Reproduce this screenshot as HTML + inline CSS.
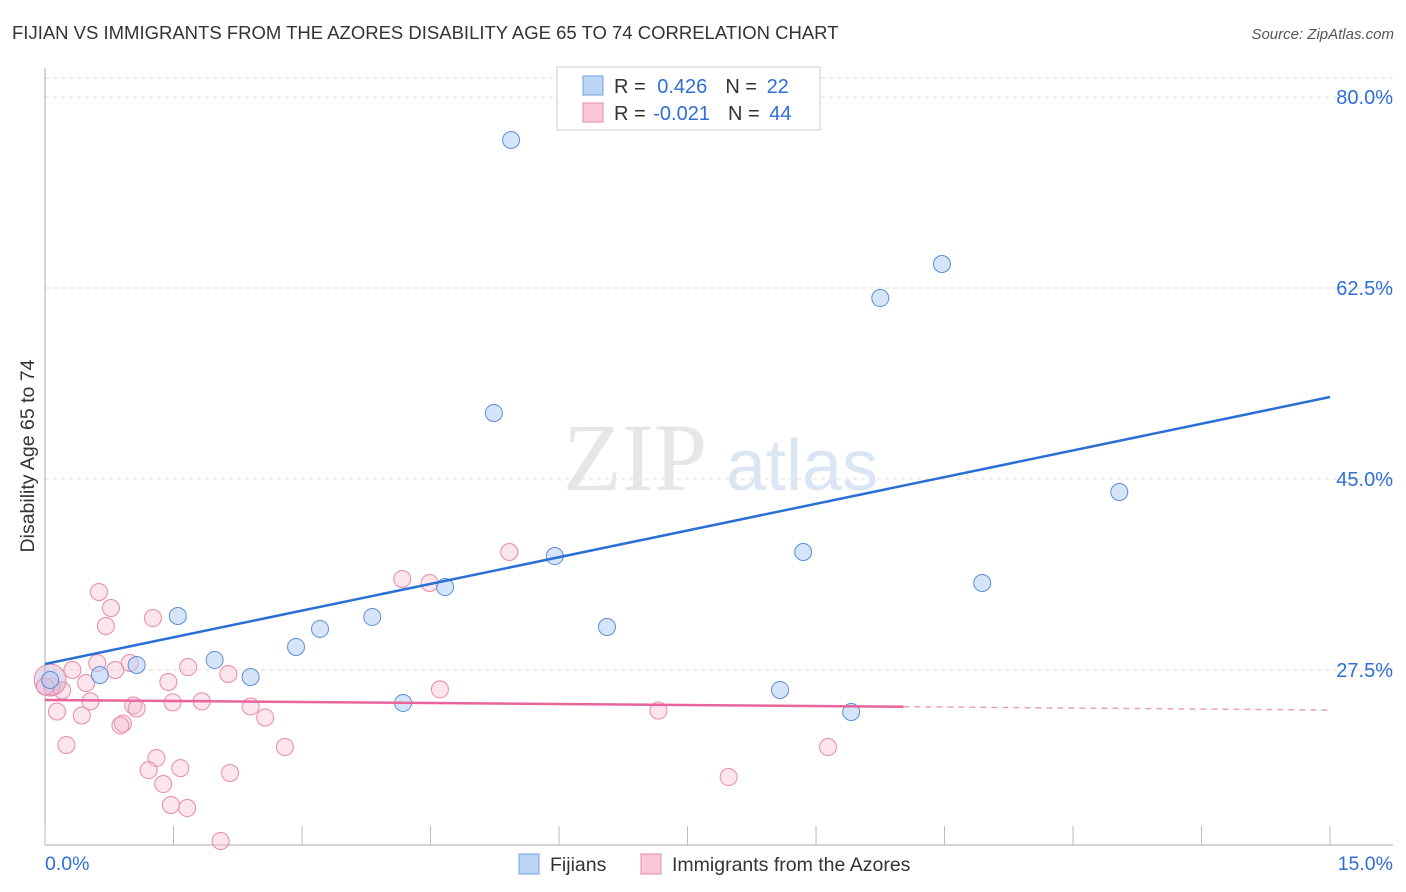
<!DOCTYPE html>
<html><head><meta charset="utf-8"><style>
body{margin:0;background:#fff;font-family:"Liberation Sans",sans-serif}
svg{display:block}
</style></head><body>
<svg width="1406" height="892">
<text x="12" y="39" font-size="18.5" fill="#333">FIJIAN VS IMMIGRANTS FROM THE AZORES DISABILITY AGE 65 TO 74 CORRELATION CHART</text>
<text x="1394" y="39" font-size="15" fill="#555" font-style="italic" text-anchor="end">Source: ZipAtlas.com</text>
<text transform="translate(34,456) rotate(-90)" font-size="19.5" fill="#333" text-anchor="middle">Disability Age 65 to 74</text>
<g id="grid"></g>
<g id="watermark">
<text x="635" y="490" font-size="96" fill="#e6e6e6" font-family="Liberation Serif" text-anchor="middle">ZIP</text>
<text x="802" y="490" font-size="72" fill="#dbe6f5" text-anchor="middle">atlas</text></g>
<g id="pts"></g><g id="lines"></g>
<g>
<rect x="557" y="67" width="263" height="63" fill="#fff" stroke="#ccc"/>
<rect x="583" y="76" width="20" height="19" fill="#bcd4f6" stroke="#6fa0e0"/>
<rect x="583" y="103" width="20" height="19" fill="#f9c8d6" stroke="#e88aa8"/>
<text x="614" y="93" font-size="20" fill="#333">R = <tspan fill="#2f6ed6" dx="6">0.426</tspan><tspan dx="18">N = </tspan><tspan fill="#2f6ed6" dx="4">22</tspan></text>
<text x="614" y="120" font-size="20" fill="#333">R = <tspan fill="#2f6ed6" dx="2">-0.021</tspan><tspan dx="18">N = </tspan><tspan fill="#2f6ed6" dx="4">44</tspan></text>
</g>
<g>
<rect x="519" y="854" width="20" height="20" fill="#bcd4f6" stroke="#6fa0e0"/>
<text x="550" y="871" font-size="19.5" fill="#333">Fijians</text>
<rect x="641" y="854" width="20" height="20" fill="#f9c8d6" stroke="#e88aa8"/>
<text x="672" y="871" font-size="19.5" fill="#333">Immigrants from the Azores</text>
</g>
</svg>
<script>
const blueX=[5.44,10.47,9.75,5.24,12.54,5.95,8.85,4.67,10.94,1.55,3.82,3.21,6.56,2.93,1.98,1.07,0.64,2.40,4.18,8.58,9.41,0.06];
const blueY=[76.06,64.70,61.58,51.05,43.81,37.94,38.31,35.10,35.47,32.45,32.36,31.26,31.44,29.61,28.42,27.96,27.04,26.86,24.48,25.67,23.65,26.58];
const pinkX=[0.63,0.77,0.71,1.26,0.61,0.32,0.99,1.67,0.82,0.48,1.44,2.14,0.08,0.20,0.53,0.14,0.43,1.49,1.83,1.03,1.07,2.40,2.57,0.91,0.88,0.25,1.30,1.58,1.21,2.16,2.80,1.38,1.47,1.66,2.05,4.17,4.49,5.42,4.61,7.16,7.98,9.14,0.06,0.0];
const pinkY=[34.65,33.18,31.53,32.26,28.14,27.50,28.14,27.77,27.50,26.31,26.40,27.13,25.99,25.63,24.62,23.70,23.33,24.53,24.62,24.25,23.97,24.16,23.15,22.60,22.42,20.63,19.43,18.51,18.33,18.06,20.44,17.05,15.13,14.85,11.83,35.84,35.47,38.31,25.72,23.79,17.69,20.44,26.58,25.99];
const yTicks=[80,62.5,45,27.5];
const yTickLabels=["80.0%","62.5%","45.0%","27.5%"];
const xTicks=[0,1.5,3,4.5,6,7.5,9,10.5,12,13.5,15];
const blueTrend=[28.05,52.51];
const pinkTrend=[24.75,23.83];
const pinkSolidEnd=10.02;
const NS="http://www.w3.org/2000/svg";
const X=v=>45+v*85.67, Y=v=>97+(80-v)*10.914;
function mk(t,a,p){const e=document.createElementNS(NS,t);for(const k in a)e.setAttribute(k,a[k]);p.appendChild(e);return e;}
const grid=document.getElementById('grid');
mk('line',{x1:45,x2:1393,y1:78,y2:78,stroke:'#ddd','stroke-dasharray':'4,4'},grid);
yTicks.forEach((t,i)=>{
 const l=mk('line',{x1:45,x2:1393,y1:Y(t),y2:Y(t),stroke:'#ddd','stroke-dasharray':'4,4'},grid);
 
 
 const tx=mk('text',{x:1393,y:Y(t)+7,'font-size':20,fill:'#2f6ed6','text-anchor':'end'},grid);
 tx.textContent=yTickLabels[i];
 
 
});
mk('line',{x1:45,x2:45,y1:68,y2:845,stroke:'#aaa'},grid);
mk('line',{x1:45,x2:1393,y1:845,y2:845,stroke:'#aaa'},grid);
xTicks.forEach(t=>{const l=mk('line',{x1:X(t),x2:X(t),y1:826,y2:845,stroke:'#bbb'},grid);
 
 });
let a=mk('text',{x:45,y:870,'font-size':19.5,fill:'#2f6ed6'},grid);a.textContent='0.0%';


a=mk('text',{x:1393,y:870,'font-size':19.5,fill:'#2f6ed6','text-anchor':'end'},grid);a.textContent='15.0%';


const pts=document.getElementById('pts');
pinkX.forEach((v,i)=>{const big=i===42;const c=mk('circle',{cx:X(v),cy:Y(pinkY[i]),r:big?16:8.5,fill:big?'rgba(200,170,210,0.45)':'rgba(248,190,208,0.4)',stroke:'#e88aa8','stroke-width':1},pts);
 
 });
blueX.forEach((v,i)=>{const c=mk('circle',{cx:X(v),cy:Y(blueY[i]),r:8.5,fill:'rgba(180,206,244,0.55)',stroke:'#5b8fd8','stroke-width':1},pts);
 
 });
const L=document.getElementById('lines');
let b=mk('line',{x1:X(0),y1:Y(blueTrend[0]),x2:X(15),y2:Y(blueTrend[1]),stroke:'#2a6fd6','stroke-width':2.5},L);


const pm=pinkTrend[0]+(pinkTrend[1]-pinkTrend[0])*pinkSolidEnd/15;
b=mk('line',{x1:X(0),y1:Y(pinkTrend[0]),x2:X(pinkSolidEnd),y2:Y(pm),stroke:'#e8649a','stroke-width':2.5},L);


b=mk('line',{x1:X(pinkSolidEnd),y1:Y(pm),x2:X(15),y2:Y(pinkTrend[1]),stroke:'#e8a0bc','stroke-width':1.5,'stroke-dasharray':'6,5'},L);


</script>
</body></html>
